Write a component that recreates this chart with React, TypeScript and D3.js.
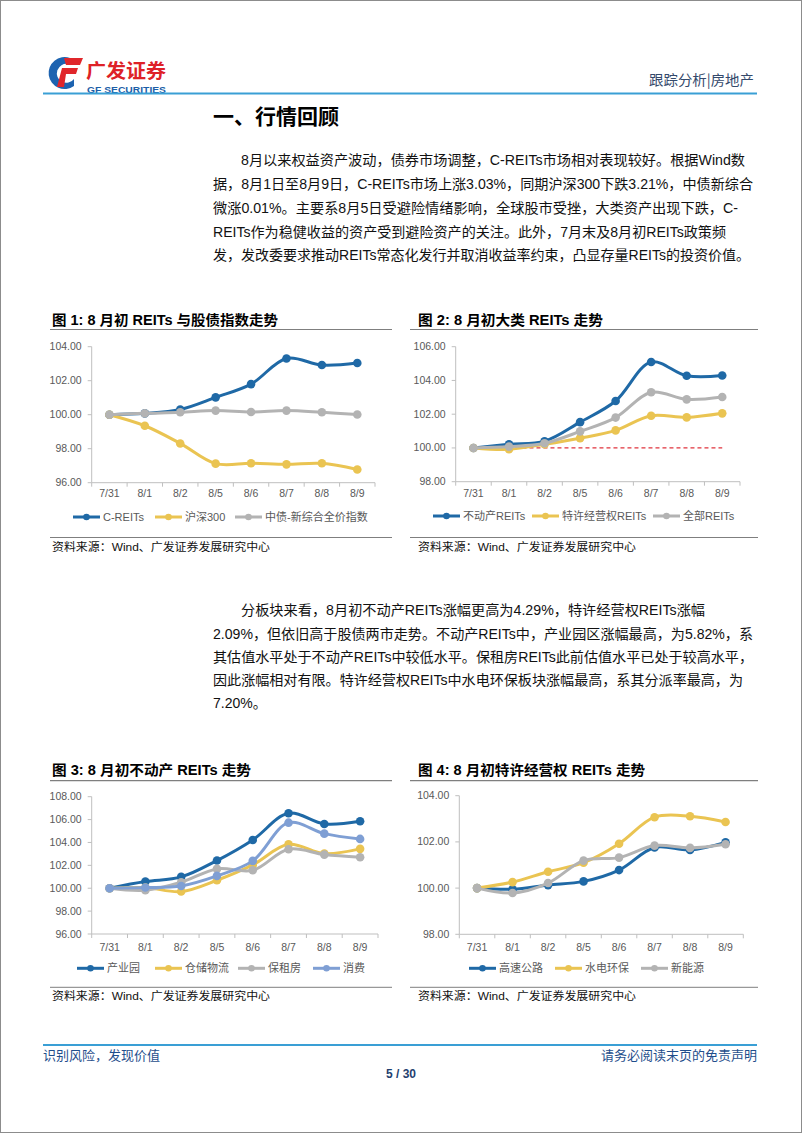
import * as d3 from 'd3'

// categories
const dates = ['7/31', '8/1', '8/2', '8/5', '8/6', '8/7', '8/8', '8/9']

// fig 1
const cReits = [100, 100.08, 100.31, 101.02, 101.8, 103.31, 102.92, 103.04]
const hs300 = [100, 99.35, 98.31, 97.12, 97.14, 97.08, 97.14, 96.78]
const chinaBond = [100, 100.08, 100.14, 100.24, 100.16, 100.24, 100.14, 100.01]

// fig 2
const propertyReits = [100, 100.22, 100.4, 101.53, 102.78, 105.09, 104.28, 104.29]
const franchiseReits = [100, 99.92, 100.22, 100.58, 101.04, 101.91, 101.81, 102.05]
const allReits = [100, 100.08, 100.28, 100.98, 101.8, 103.3, 102.88, 103.02]

// fig 3
const industrialPark = [100, 100.58, 100.99, 102.42, 104.22, 106.55, 105.62, 105.86]
const logistics = [100, 100.06, 99.71, 100.7, 102.04, 103.84, 103.03, 103.44]
const rentalHousing = [100, 99.83, 100.52, 101.69, 101.57, 103.41, 102.94, 102.71]
const consumer = [100, 100.06, 100.2, 101.08, 102.39, 105.73, 104.77, 104.31]

// fig 4
const highway = [100, 99.95, 100.13, 100.29, 100.78, 101.76, 101.65, 101.98]
const hydroEnv = [100, 100.26, 100.71, 101.1, 101.92, 103.07, 103.11, 102.86]
const newEnergy = [100, 99.79, 100.22, 101.19, 101.32, 101.84, 101.74, 101.9]

const para1 = [
  '8月以来权益资产波动，债券市场调整，C-REITs市场相对表现较好。根据Wind数',
  '据，8月1日至8月9日，C-REITs市场上涨3.03%，同期沪深300下跌3.21%，中债新综合',
  '微涨0.01%。主要系8月5日受避险情绪影响，全球股市受挫，大类资产出现下跌，C-',
  'REITs作为稳健收益的资产受到避险资产的关注。此外，7月末及8月初REITs政策频',
  '发，发改委要求推动REITs常态化发行并取消收益率约束，凸显存量REITs的投资价值。',
]
const para2 = [
  '分板块来看，8月初不动产REITs涨幅更高为4.29%，特许经营权REITs涨幅',
  '2.09%，但依旧高于股债两市走势。不动产REITs中，产业园区涨幅最高，为5.82%，系',
  '其估值水平处于不动产REITs中较低水平。保租房REITs此前估值水平已处于较高水平，',
  '因此涨幅相对有限。特许经营权REITs中水电环保板块涨幅最高，系其分派率最高，为',
  '7.20%。',
]

const BLUE = '#1f69a6'
const YELLOW = '#eac452'
const GRAY = '#b3b3b3'
const LIGHTBLUE = '#7f9fd4'
const CJK = '"Liberation Sans", "Noto Sans CJK SC", sans-serif'

type Series = { name: string; values: number[]; color: string; legendX: number }

type ChartProps = {
  title: string
  titleX: number
  titleY: number
  titleW: number
  frame: [number, number]
  underlineY: number
  left: number
  right: number
  top: number
  bottom: number
  domain: [number, number]
  series: Series[]
  xLabelY: number
  legendY: number
  sourceLineY: number
  sourceY: number
  refLine?: number
}

function LineChart(p: ChartProps) {
  const x = d3.scaleBand().domain(dates).range([p.left, p.right])
  const y = d3.scaleLinear().domain(p.domain).range([p.bottom, p.top])
  const ticks = d3.range(p.domain[0], p.domain[1] + 0.001, 2)
  const cx = (d: string) => (x(d) || 0) + x.bandwidth() / 2
  const line = d3
    .line<number>()
    .x((_, i) => cx(dates[i]))
    .y((v) => y(v))
    .curve(d3.curveCatmullRom.alpha(0.5))
  const axisColor = '#bfbfbf'
  return (
    <g>
      <text x={p.titleX} y={p.titleY} fontSize={14} fontWeight="bold" fontFamily={CJK} textLength={p.titleW} lengthAdjust="spacingAndGlyphs">
        {p.title}
      </text>
      <line x1={p.frame[0]} x2={p.frame[1]} y1={p.underlineY} y2={p.underlineY} stroke="#7f7f7f" strokeWidth={1.2} />
      {/* y axis */}
      <line x1={p.left} x2={p.left} y1={y(p.domain[1])} y2={y(p.domain[0])} stroke={axisColor} />
      {ticks.map((t) => (
        <g key={t}>
          <line x1={p.left - 4} x2={p.left} y1={y(t)} y2={y(t)} stroke={axisColor} />
          <text x={p.left - 10} y={y(t) + 3.5} textAnchor="end" fontSize={10.5} fill="#595959" fontFamily="Liberation Sans, Arial">
            {t.toFixed(2)}
          </text>
        </g>
      ))}
      {/* x axis */}
      <line x1={p.left} x2={p.right} y1={p.bottom} y2={p.bottom} stroke={axisColor} />
      {dates.map((d) => (
        <line key={'t' + d} x1={x(d)} x2={x(d)} y1={p.bottom} y2={p.bottom + 4} stroke={axisColor} />
      ))}
      <line x1={p.right} x2={p.right} y1={p.bottom} y2={p.bottom + 4} stroke={axisColor} />
      {dates.map((d) => (
        <text key={'l' + d} x={cx(d)} y={p.xLabelY} textAnchor="middle" fontSize={10.5} fill="#595959" fontFamily="Liberation Sans, Arial">
          {d}
        </text>
      ))}
      {p.refLine !== undefined && (
        <line
          x1={cx(dates[0])}
          x2={cx(dates[dates.length - 1])}
          y1={y(p.refLine)}
          y2={y(p.refLine)}
          stroke="#e0333c"
          strokeWidth={1.3}
          strokeDasharray="4,3"
        />
      )}
      {p.series.map((s) => (
        <g key={s.name}>
          <path d={line(s.values) || ''} fill="none" stroke={s.color} strokeWidth={3} />
          {s.values.map((v, i) => (
            <circle key={i} cx={cx(dates[i])} cy={y(v)} r={4.3} fill={s.color} />
          ))}
        </g>
      ))}
      {/* legend */}
      {p.series.map((s) => (
        <g key={'lg' + s.name}>
          <line x1={s.legendX} x2={s.legendX + 27} y1={p.legendY} y2={p.legendY} stroke={s.color} strokeWidth={3} />
          <circle cx={s.legendX + 13.5} cy={p.legendY} r={3.3} fill={s.color} />
          <text x={s.legendX + 30} y={p.legendY + 4} fontSize={11} fill="#595959" fontFamily={CJK}>
            {s.name}
          </text>
        </g>
      ))}
      <line x1={p.frame[0]} x2={p.frame[1]} y1={p.sourceLineY} y2={p.sourceLineY} stroke="#7f7f7f" strokeWidth={1} />
      <text x={p.titleX} y={p.sourceY} fontSize={11.5} fontFamily={CJK} fill="#111" textLength={218} lengthAdjust="spacingAndGlyphs">
        资料来源：Wind、广发证券发展研究中心
      </text>
    </g>
  )
}

function Paragraph({ lines, top, widths }: { lines: string[]; top: number[]; widths: number[] }) {
  return (
    <g fontSize={14} fontFamily={CJK} fill="#111">
      {lines.map((l, i) => (
        <text
          key={i}
          x={i === 0 ? 241 : 213}
          y={top[i]}
          textLength={widths[i] > 0 ? widths[i] : undefined}
          lengthAdjust={widths[i] > 0 ? 'spacingAndGlyphs' : undefined}
        >
          {l}
        </text>
      ))}
    </g>
  )
}

export default function App() {
  return (
    <svg width={802} height={1133} style={{ position: 'absolute', left: 0, top: 0, background: '#fff' }}>
      <rect x={0.5} y={0.5} width={801} height={1132} fill="#fff" stroke="#8c8c8c" />

      {/* header logo */}
      <g>
        <path d="M70,58 A16,16 0 1 0 74,86 L74,79 A9.5,9.5 0 1 1 68,64 Z" fill="#1d63b0" />
        <path d="M64,58 L83,58 L80,65 L66,65 Z" fill="#e0262b" />
        <path d="M62,68 L78,68 L76,74 L66,74 L64,87 L57,87 Z" fill="#e0262b" />
        <text x={86} y={78} fontSize={19} fontWeight="bold" fill="#de2127" fontFamily="Noto Sans CJK SC" textLength={80} lengthAdjust="spacingAndGlyphs">
          广发证券
        </text>
        <text x={87} y={92.5} fontSize={8.5} fontWeight="bold" fill="#1d5fa8" fontFamily="Liberation Sans" textLength={79} lengthAdjust="spacingAndGlyphs">
          GF SECURITIES
        </text>
      </g>
      <text x={754} y={85} textAnchor="end" fontSize={14} fill="#34496b" fontFamily="Noto Sans CJK SC" textLength={105} lengthAdjust="spacingAndGlyphs">
        跟踪分析|房地产
      </text>
      <line x1={43} x2={757} y1={93.5} y2={93.5} stroke="#3a9fd5" strokeWidth={2} />

      <text x={213} y={124} fontSize={21} fontWeight="bold" fontFamily="Noto Sans CJK SC" textLength={126} lengthAdjust="spacingAndGlyphs">
        一、行情回顾
      </text>

      <Paragraph lines={para1} top={[165, 189, 213, 237, 260]} widths={[504, 540, 525, 513, 537]} />

      <LineChart
        title="图 1: 8 月初 REITs 与股债指数走势"
        titleX={52}
        titleY={325}
        titleW={226}
        frame={[50, 392]}
        underlineY={329.5}
        left={91.7}
        right={375}
        top={346.7}
        bottom={482.7}
        domain={[96, 104]}
        xLabelY={497}
        legendY={517}
        sourceLineY={537.5}
        sourceY={551}
        series={[
          { name: 'C-REITs', values: cReits, color: BLUE, legendX: 73 },
          { name: '沪深300', values: hs300, color: YELLOW, legendX: 155 },
          { name: '中债-新综合全价指数', values: chinaBond, color: GRAY, legendX: 235 },
        ]}
      />
      <LineChart
        title="图 2: 8 月初大类 REITs 走势"
        titleX={418}
        titleY={325}
        titleW={185}
        frame={[410, 758]}
        underlineY={329.5}
        left={455.7}
        right={740}
        top={346.7}
        bottom={481.7}
        domain={[98, 106]}
        xLabelY={497}
        legendY={516}
        sourceLineY={537.5}
        sourceY={551}
        refLine={100}
        series={[
          { name: '不动产REITs', values: propertyReits, color: BLUE, legendX: 433 },
          { name: '特许经营权REITs', values: franchiseReits, color: YELLOW, legendX: 532 },
          { name: '全部REITs', values: allReits, color: GRAY, legendX: 653 },
        ]}
      />

      <Paragraph lines={para2} top={[615, 639, 662, 685, 708]} widths={[464, 540, 540, 530, 0]} />

      <LineChart
        title="图 3: 8 月初不动产 REITs 走势"
        titleX={52}
        titleY={775}
        titleW={199}
        frame={[50, 392]}
        underlineY={780.7}
        left={91.7}
        right={378}
        top={796.7}
        bottom={934}
        domain={[96, 108]}
        xLabelY={951}
        legendY={968.3}
        sourceLineY={987.3}
        sourceY={1000}
        series={[
          { name: '产业园', values: industrialPark, color: BLUE, legendX: 77 },
          { name: '仓储物流', values: logistics, color: YELLOW, legendX: 155 },
          { name: '保租房', values: rentalHousing, color: GRAY, legendX: 238 },
          { name: '消费', values: consumer, color: LIGHTBLUE, legendX: 313 },
        ]}
      />
      <LineChart
        title="图 4: 8 月初特许经营权 REITs 走势"
        titleX={418}
        titleY={775}
        titleW={227}
        frame={[410, 758]}
        underlineY={780.7}
        left={459.3}
        right={743.3}
        top={795.7}
        bottom={934.3}
        domain={[98, 104]}
        xLabelY={951}
        legendY={968.3}
        sourceLineY={987.3}
        sourceY={1000}
        series={[
          { name: '高速公路', values: highway, color: BLUE, legendX: 469 },
          { name: '水电环保', values: hydroEnv, color: YELLOW, legendX: 555 },
          { name: '新能源', values: newEnergy, color: GRAY, legendX: 641 },
        ]}
      />

      {/* footer */}
      <line x1={43} x2={757} y1={1045} y2={1045} stroke="#3a9fd5" strokeWidth={2} />
      <text x={43} y={1060} fontSize={13} fill="#1f4e8c" fontFamily="Noto Sans CJK SC">
        识别风险，发现价值
      </text>
      <text x={757} y={1060} textAnchor="end" fontSize={13} fill="#1f4e8c" fontFamily="Noto Sans CJK SC">
        请务必阅读末页的免责声明
      </text>
      <text x={401} y={1078} textAnchor="middle" fontSize={12} fontWeight="bold" fill="#1f3f6f" fontFamily="Liberation Sans">
        5 / 30
      </text>
    </svg>
  )
}
